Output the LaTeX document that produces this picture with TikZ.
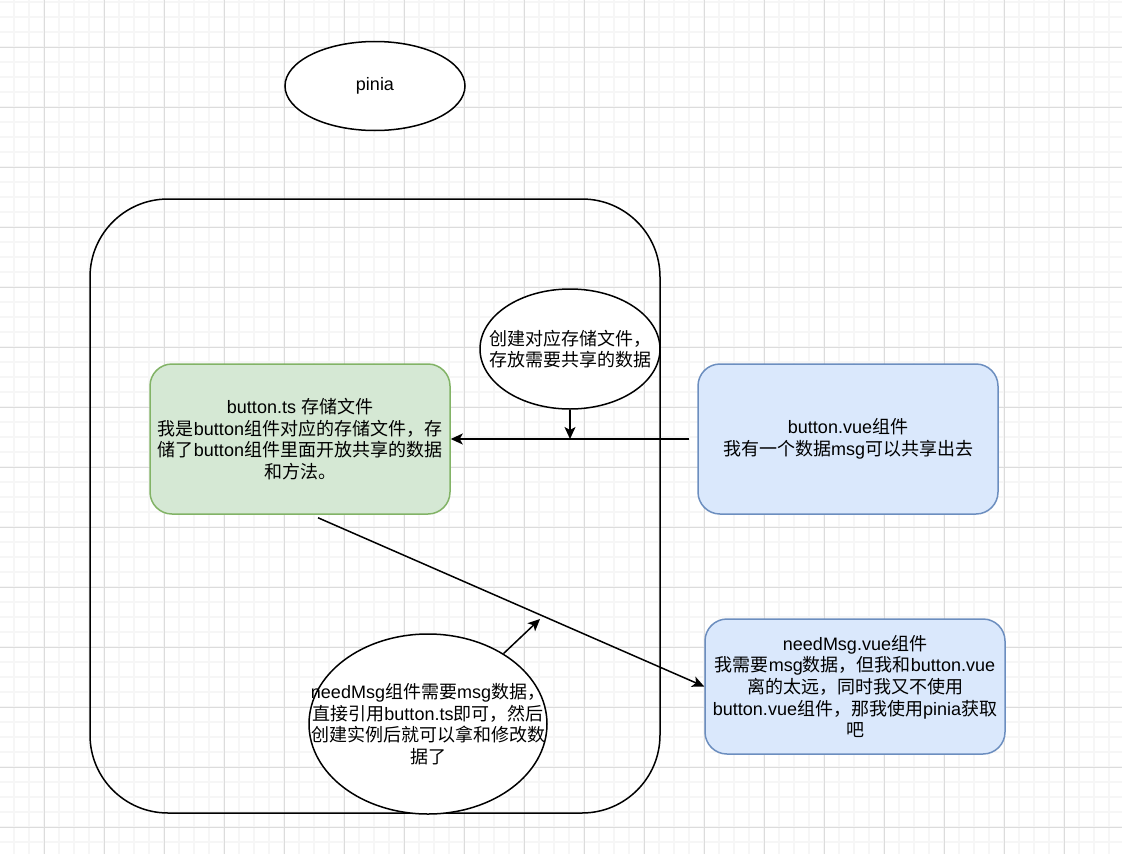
\documentclass[tikz,border=0pt]{standalone}
\usepackage{fontspec}
\setmainfont{Liberation Sans}
\newfontfamily\cjk{Noto Sans CJK SC}
\newcommand{\zh}[1]{{\cjk #1}}
\usepackage{tikz}
\usetikzlibrary{shapes.geometric, arrows.meta}
\definecolor{greenfill}{HTML}{D5E8D4}
\definecolor{greenline}{HTML}{82B366}
\definecolor{bluefill}{HTML}{DAE8FC}
\definecolor{blueline}{HTML}{6C8EBF}
\definecolor{gridmajor}{HTML}{DCDCDC}
\definecolor{gridminor}{HTML}{F6F6F6}
\tikzset{
  greenbox/.style={rectangle, draw=greenline, fill=greenfill, line width=1.5pt,
                   rounded corners=22pt, minimum width=300pt, align=center},
  bluebox/.style={rectangle, draw=blueline, fill=bluefill, line width=1.5pt,
                  rounded corners=22pt, minimum width=300pt, align=center},
  oval/.style={ellipse, draw=black, fill=white, line width=1.5pt, inner sep=0pt},
  ovaltext/.style={align=center, inner sep=0pt},
  arrow/.style={-{Stealth[length=12pt, width=11pt, inset=3pt]}, line width=1.5pt},
  minorline/.style={draw=gridminor, line width=1.2pt},
  majorline/.style={draw=gridmajor, line width=1pt},
}

\begin{document}
\begin{tikzpicture}[x=1pt, y=-1pt, font=\fontsize{18pt}{21.6pt}\selectfont]

% ── Background grid ──────────────────────────────────────────────────────────
\useasboundingbox[fill=white] (0,0) rectangle (1122,854);
\foreach \gx in {14,29,...,1120} \draw[minorline] (\gx,0) -- (\gx,854);
\foreach \gy in {2,17,...,854} \draw[minorline] (0,\gy) -- (1122,\gy);
\foreach \gx in {44,104,...,1120} \draw[majorline] (\gx,0) -- (\gx,854);
\foreach \gy in {47,107,...,854} \draw[majorline] (0,\gy) -- (1122,\gy);

% ── Store frame ──────────────────────────────────────────────────────────────
\node[draw=black, line width=1.5pt, rounded corners=78pt,
      minimum width=570pt, minimum height=614pt] (frame) at (375,506) {};

% ── Nodes ────────────────────────────────────────────────────────────────────
\node[oval, minimum width=180pt, minimum height=89pt] (pinia) at (375,86) {};
\node[ovaltext] (piniatext) at (pinia.center) {pinia};

\node[oval, minimum width=180pt, minimum height=120pt] (hint) at (570,349) {};
\node[ovaltext] (hinttext) at (hint.center)
  {\zh{创建对应存储文件，}\\\zh{存放需要共享的数据}};

\node[greenbox, minimum height=150pt] (store) at (300,439)
  {button.ts \zh{存储文件}\\
   \zh{我是}button\zh{组件对应的存储文件，存}\\
   \zh{储了}button\zh{组件里面开放共享的数据}\\
   \zh{和方法。}};

\node[bluebox, minimum height=150pt] (vuebox) at (848,439)
  {button.vue\zh{组件}\\\zh{我有一个数据}msg\zh{可以共享出去}};

\node[bluebox, minimum height=135pt] (needbox) at (855,686.5)
  {needMsg.vue\zh{组件}\\
   \zh{我需要}msg\zh{数据，但我和}button.vue\\
   \zh{离的太远，同时我又不使用}\\
   button.vue\zh{组件，那我使用}pinia\zh{获取}\\
   \zh{吧}};

\node[oval, minimum width=238pt, minimum height=180pt] (ask) at (428,724) {};
\node[ovaltext] (asktext) at (ask.center)
  {needMsg\zh{组件需要}msg\zh{数据，}\\
   \zh{直接引用}button.ts\zh{即可，然后}\\
   \zh{创建实例后就可以拿和修改数}\\
   \zh{据了}};

\coordinate (asktip) at (540,619);

% ── Arrows ───────────────────────────────────────────────────────────────────
\draw[arrow] ([xshift=-8pt]vuebox.west) -- (store.east);
\draw[arrow] (hint.south) -- (hint.south |- store.east);
\draw[arrow] ([xshift=18pt, yshift=-3pt]store.south) -- (needbox.west);
\draw[arrow] (ask.43) -- (asktip);

\end{tikzpicture}
\end{document}
